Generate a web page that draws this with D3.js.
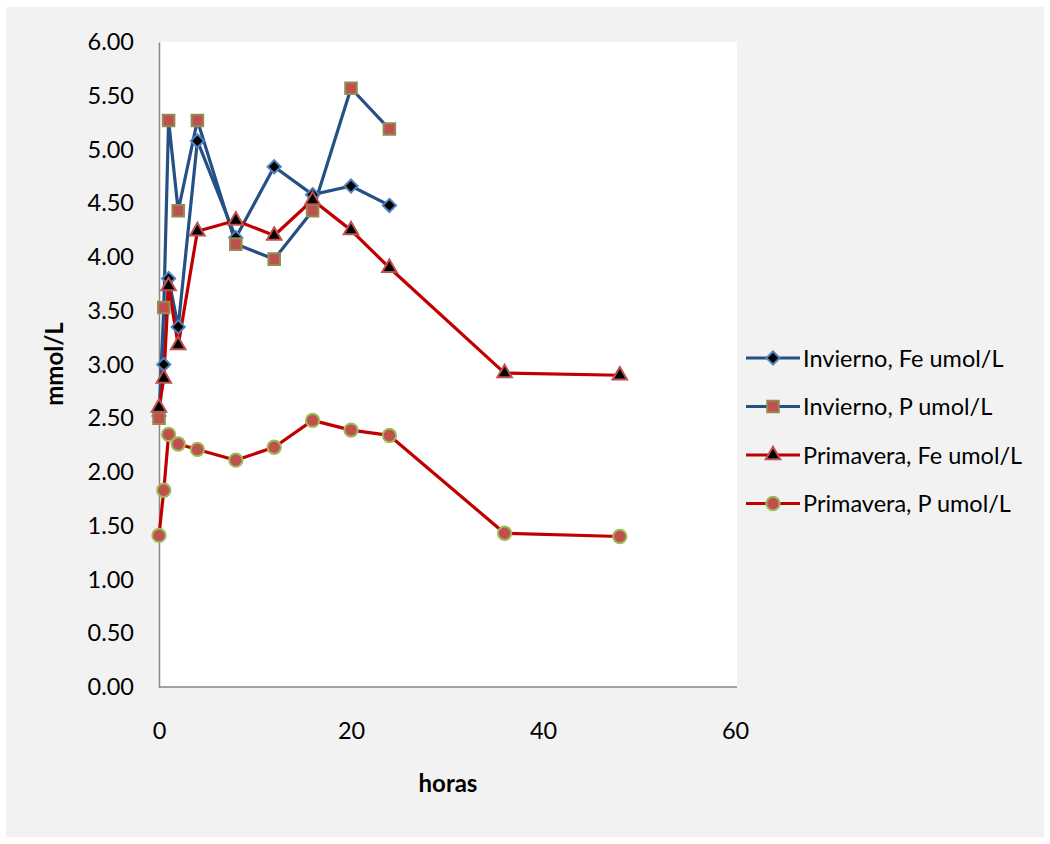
<!DOCTYPE html>
<html>
<head>
<meta charset="utf-8">
<script src="https://cdn.jsdelivr.net/npm/d3@7"></script>
<style>
  html, body { margin: 0; padding: 0; background: #ffffff; }
  svg { display: block; }
  text { font-family: Lato, "Open Sans", "Liberation Sans", sans-serif; fill: #000; }
</style>
</head>
<body>
<script>
// Sampling times (hours)
const hoursInvierno = [0, 0.5, 1, 2, 4, 8, 12, 16, 20, 24];
const hoursPrimavera = [0, 0.5, 1, 2, 4, 8, 12, 16, 20, 24, 36, 48];

// Concentrations (mmol/L)
const invFe = [2.52, 3.00, 3.80, 3.35, 5.08, 4.18, 4.84, 4.58, 4.66, 4.48];
const invP  = [2.50, 3.53, 5.27, 4.43, 5.27, 4.12, 3.98, 4.43, 5.57, 5.19];
const priFe = [2.60, 2.87, 3.73, 3.18, 4.24, 4.34, 4.20, 4.53, 4.25, 3.90, 2.92, 2.90];
const priP  = [1.41, 1.83, 2.35, 2.26, 2.21, 2.11, 2.23, 2.48, 2.39, 2.34, 1.43, 1.40];

const seriesNames = ["Invierno, Fe umol/L", "Invierno, P umol/L", "Primavera, Fe umol/L", "Primavera, P umol/L"];
const yTicks = [0, 0.5, 1, 1.5, 2, 2.5, 3, 3.5, 4, 4.5, 5, 5.5, 6];
const xTicks = [0, 20, 40, 60];

const W = 1050, H = 844;
const plot = { left: 159, right: 737, top: 42, bottom: 687 };
const FONT = 23.5;

const svg = d3.select("body").append("svg").attr("width", W).attr("height", H);

// chart area background
svg.append("rect").attr("x", 6).attr("y", 7).attr("width", W - 12).attr("height", H - 14)
  .attr("fill", "#f2f2f2");
svg.append("rect").attr("x", plot.left).attr("y", plot.top)
  .attr("width", plot.right - plot.left).attr("height", plot.bottom - plot.top)
  .attr("fill", "#ffffff");

const x = d3.scaleLinear().domain([0, 60]).range([plot.left, plot.right - 2]);
const y = d3.scaleLinear().domain([0, 6]).range([plot.bottom, plot.top]);

// axes
const yAxis = d3.axisLeft(y).tickValues(yTicks).tickFormat(d3.format(".2f")).tickSize(0).tickPadding(25);
const gy = svg.append("g").attr("transform", `translate(${plot.left},0)`).call(yAxis);
gy.select(".domain").attr("stroke", "#868686").attr("stroke-width", 1.5);
gy.selectAll("text").attr("font-size", FONT).style("font-family", "Lato, sans-serif");

const xAxis = d3.axisBottom(x).tickValues(xTicks).tickSize(0).tickPadding(35);
const gx = svg.append("g").attr("transform", `translate(0,${plot.bottom})`).call(xAxis);
gx.select(".domain").attr("stroke", "#868686").attr("stroke-width", 1.5)
  .attr("d", `M${plot.left},0H${plot.right}`);
gx.selectAll("text").attr("font-size", FONT).style("font-family", "Lato, sans-serif");

// axis titles
svg.append("text").attr("x", 448).attr("y", 792).attr("text-anchor", "middle")
  .attr("font-size", 24).attr("font-weight", "bold").text("horas");
svg.append("text").attr("transform", "translate(63,364) rotate(-90)").attr("text-anchor", "middle")
  .attr("font-size", 24).attr("font-weight", "bold").text("mmol/L");

const blue = "#255085", red = "#c00000";
const styles = [
  { line: blue, sym: d3.symbolDiamond2, size: 110, fill: "#000000", stroke: "#4f81bd", sw: 2 },
  { line: blue, sym: d3.symbolSquare2,  size: 170, fill: "#c0504d", stroke: "#948a54", sw: 2 },
  { line: red,  sym: d3.symbolTriangle2, size: 150, fill: "#000000", stroke: "#c0504d", sw: 2 },
  { line: red,  sym: d3.symbolCircle,  size: 140, fill: "#c0504d", stroke: "#9bbb59", sw: 2 }
];

const data = [
  hoursInvierno.map((h, i) => [h, invFe[i]]),
  hoursInvierno.map((h, i) => [h, invP[i]]),
  hoursPrimavera.map((h, i) => [h, priFe[i]]),
  hoursPrimavera.map((h, i) => [h, priP[i]])
];

const line = d3.line().x(d => x(d[0])).y(d => y(d[1]));

data.forEach((pts, k) => {
  const s = styles[k];
  svg.append("path").datum(pts).attr("d", line)
    .attr("fill", "none").attr("stroke", s.line).attr("stroke-width", 3.2)
    .attr("stroke-linejoin", "round");
});
data.forEach((pts, k) => {
  const s = styles[k];
  const sym = d3.symbol().type(s.sym).size(s.size);
  svg.append("g").selectAll("path").data(pts).join("path")
    .attr("transform", d => `translate(${x(d[0])},${y(d[1])})`)
    .attr("d", sym)
    .attr("fill", s.fill).attr("stroke", s.stroke).attr("stroke-width", s.sw);
});

// legend
const legend = svg.append("g");
seriesNames.forEach((name, k) => {
  const s = styles[k];
  const ly = 358 + k * 48.5;
  legend.append("line").attr("x1", 746).attr("x2", 800).attr("y1", ly).attr("y2", ly)
    .attr("stroke", s.line).attr("stroke-width", 3.2);
  legend.append("path").attr("transform", `translate(773,${ly})`)
    .attr("d", d3.symbol().type(s.sym).size(s.size)())
    .attr("fill", s.fill).attr("stroke", s.stroke).attr("stroke-width", s.sw);
  legend.append("text").attr("x", 803).attr("y", ly + 8.5).attr("font-size", FONT).text(name);
});
</script>
</body>
</html>
